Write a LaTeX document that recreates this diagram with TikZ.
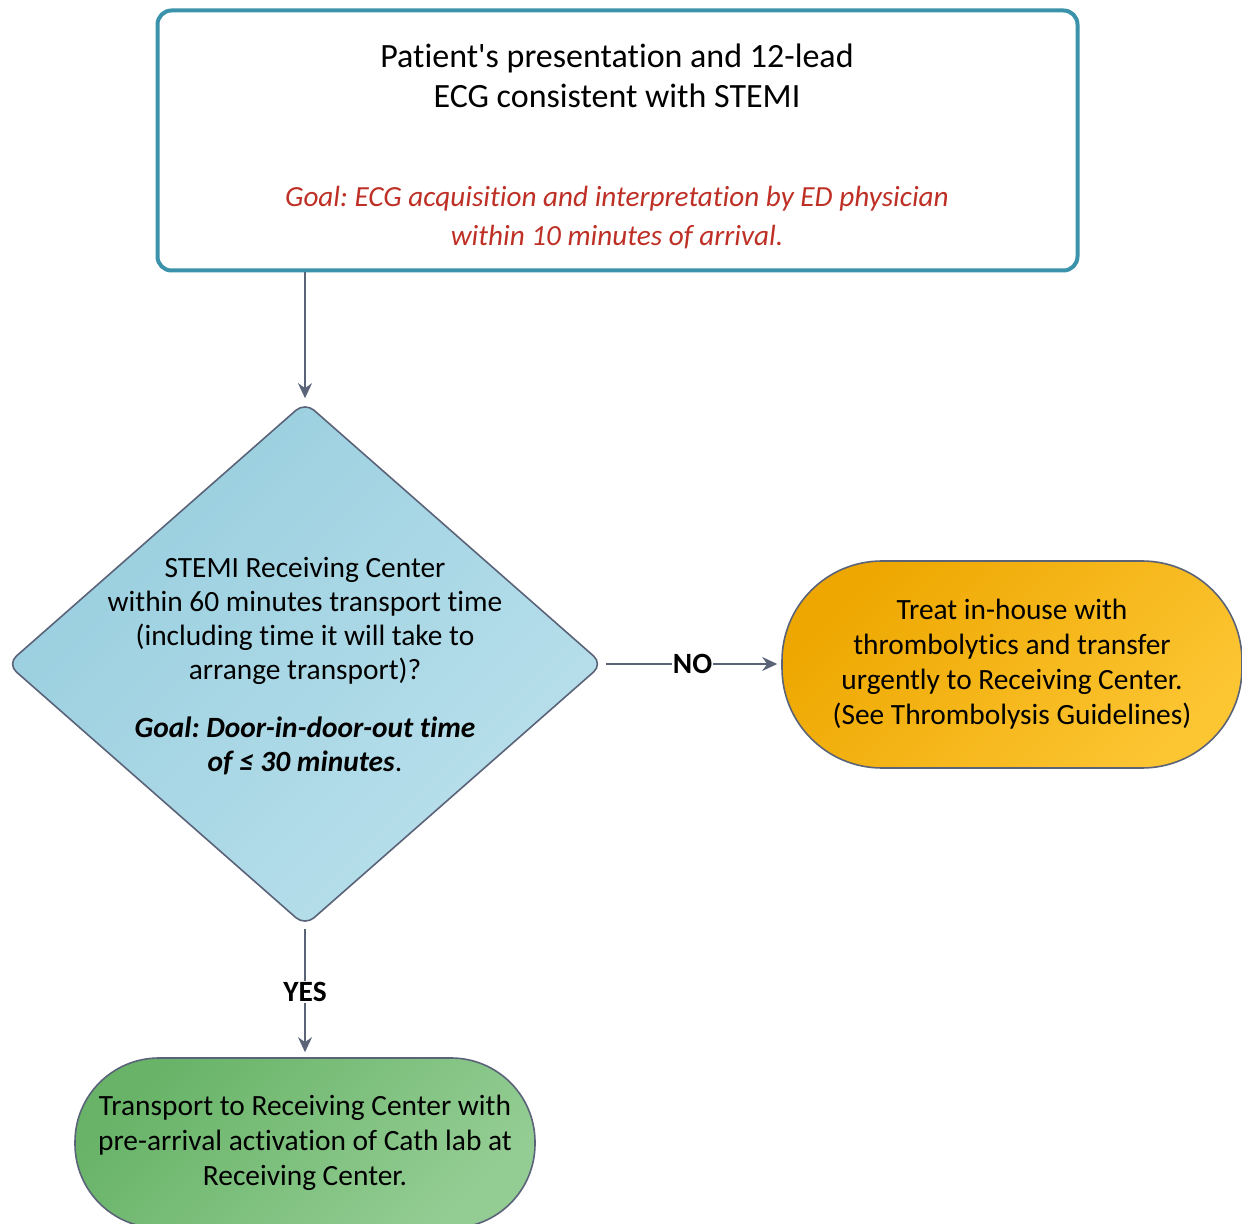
\documentclass[tikz,border=0pt]{standalone}
\usepackage{fontspec}
\setmainfont{Carlito}[Ligatures={NoCommon}]
\usetikzlibrary{shapes.geometric,arrows.meta}
\frenchspacing

\definecolor{boxteal}{RGB}{58,147,171}
\definecolor{lineslate}{RGB}{90,99,120}
\definecolor{goalred}{RGB}{190,48,38}
\definecolor{diamdark}{RGB}{152,206,222}
\definecolor{diamlight}{RGB}{186,224,236}
\definecolor{orangedark}{RGB}{238,167,0}
\definecolor{orangelight}{RGB}{252,197,50}
\definecolor{greendark}{RGB}{104,179,104}
\definecolor{greenlight}{RGB}{148,205,148}

\begin{document}
\begin{tikzpicture}[x=0.5pt,y=-0.5pt,
    flow/.style={draw=lineslate, line width=0.8pt, -{Stealth[length=7.5pt,width=7pt]}},
    txt/.style={align=center, font=\fontsize{14.7}{17.5}\selectfont},
    flowlabel/.style={fill=white, inner sep=0.5pt, font=\fontsize{14.7}{17}\selectfont\bfseries},
    endbox/.style={rectangle, draw=lineslate, line width=0.8pt, minimum width=230pt, inner sep=0pt, shading angle=45}]
  \useasboundingbox (0,0) rectangle (1242,1224);

  % top box
  \node [rectangle, rounded corners=7pt, draw=boxteal, line width=2pt, minimum width=460pt, minimum height=130pt] (ecg) at (617.5,140.5) {};
  \node [txt, font=\fontsize{17}{20}\selectfont] (ecgtxt) at (617,76) {Patient\textquotesingle s presentation and 12-lead\\ECG consistent with STEMI};
  \node [txt, text=goalred, font=\fontsize{14.6}{19.5}\selectfont\itshape] (ecggoal) at (617,217.5) {Goal: ECG acquisition and interpretation by ED physician\\within 10 minutes of arrival.};

  % decision
  \node [diamond, rounded corners=6pt, draw=lineslate, line width=0.8pt, top color=diamdark, bottom color=diamlight, shading angle=45, minimum width=298pt, minimum height=262pt, inner sep=0pt] (chk) at (305,664) {};
  \node [txt, font=\fontsize{14.7}{17}\selectfont] (chktxt) at ([yshift=-1pt]chk.center) {STEMI Receiving Center\\within 60 minutes transport time\\(including time it will take to\\arrange transport)?\\[12pt]\textbf{\textit{Goal: Door-in-door-out time}}\\\textbf{\textit{of ≤ 30 minutes}}.};

  % outcomes
  \node [endbox, txt, rounded corners=50pt, minimum height=103.5pt, top color=orangedark, bottom color=orangelight, shading angle=45] (inhouse) at (1012,664.5) {Treat in-house with\\thrombolytics and transfer\\urgently to Receiving Center.\\(See Thrombolysis Guidelines)};
  \node [endbox, txt, rounded corners=42pt, minimum height=85pt, top color=greendark, bottom color=greenlight, shading angle=45] (transport) at (305,1143) {Transport to Receiving Center with\\pre-arrival activation of Cath lab at\\Receiving Center.};

  \draw [flow, shorten >=1.5pt] (ecg.south -| chk.north) -- (chk.north);
  \draw [flow, shorten <=1pt, shorten >=2pt] (chk.east) -- node [flowlabel] {NO} (chk.east -| inhouse.west);
  \draw [flow, shorten <=1pt, shorten >=2.5pt] (chk.south) -- node [flowlabel] {YES} (transport.north);
\end{tikzpicture}
\end{document}
